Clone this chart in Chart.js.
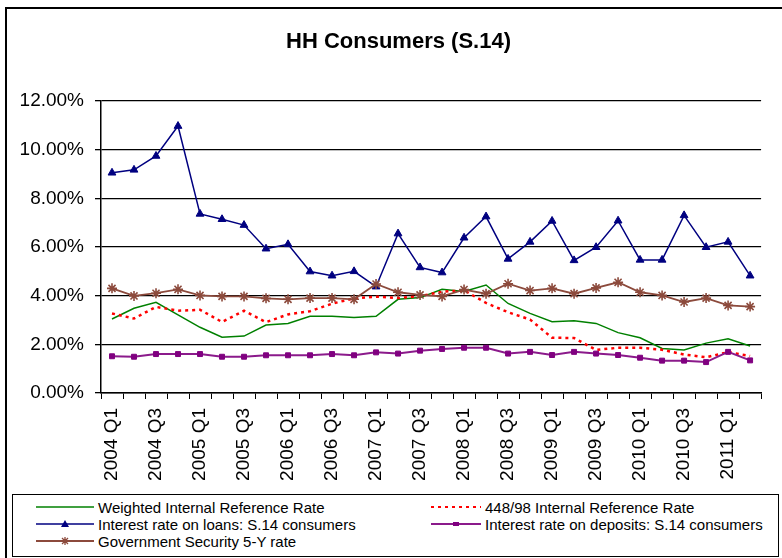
<!DOCTYPE html>
<html>
<head>
<meta charset="utf-8">
<title>HH Consumers (S.14)</title>
<script src="https://cdn.jsdelivr.net/npm/chart.js@4.4.1/dist/chart.umd.min.js"></script>
<style>
	body{margin:0;background:#fff;font-family:"Liberation Sans", Arial, sans-serif;}
	#wrap{position:relative;width:782px;height:558px;overflow:hidden;background:#fff;}
	#frame{position:absolute;left:5px;top:7px;width:820px;height:620px;border-left:2px solid #000;border-top:2px solid #000;}
	#graph_hh{position:absolute;left:0;top:0;}
	#legend{position:absolute;left:12px;top:494px;width:765px;height:61px;border:1px solid #000;background:#fff;}
	.lg_item{position:absolute;height:17px;line-height:17px;font-size:15px;color:#000;white-space:nowrap;}
	.lg_item svg{position:absolute;left:0;top:3px;}
	.lg_item span{position:absolute;top:0;}
</style>
</head>
<body>
<div id="wrap">
	<div id="frame"></div>
	<canvas id="graph_hh" width="782" height="493"></canvas>
	<div id="legend"></div>
</div>
<script>
var quarters = ["2004 Q1", "2004 Q2", "2004 Q3", "2004 Q4", "2005 Q1", "2005 Q2", "2005 Q3", "2005 Q4",
	"2006 Q1", "2006 Q2", "2006 Q3", "2006 Q4", "2007 Q1", "2007 Q2", "2007 Q3", "2007 Q4",
	"2008 Q1", "2008 Q2", "2008 Q3", "2008 Q4", "2009 Q1", "2009 Q2", "2009 Q3", "2009 Q4",
	"2010 Q1", "2010 Q2", "2010 Q3", "2010 Q4", "2011 Q1", "2011 Q2"];

var weighted_rate = [3.04, 3.48, 3.73, 3.21, 2.70, 2.29, 2.34, 2.79, 2.86, 3.15, 3.15, 3.10, 3.15, 3.85, 3.92,
	4.26, 4.17, 4.44, 3.68, 3.27, 2.93, 2.97, 2.86, 2.48, 2.27, 1.83, 1.77, 2.05, 2.23, 1.93];
var rate_448_98 = [3.27, 3.06, 3.54, 3.38, 3.42, 2.92, 3.38, 2.91, 3.23, 3.36, 3.67, 3.89, 3.96, 3.90, 3.98,
	4.16, 4.22, 3.70, 3.32, 3.02, 2.27, 2.26, 1.77, 1.86, 1.86, 1.78, 1.58, 1.47, 1.68, 1.52];
var loans_rate = [9.05, 9.17, 9.74, 10.97, 7.36, 7.14, 6.90, 5.93, 6.11, 4.99, 4.82, 5.00, 4.37, 6.55, 5.16,
	4.95, 6.38, 7.25, 5.51, 6.21, 7.07, 5.45, 5.99, 7.08, 5.47, 5.47, 7.30, 5.99, 6.21, 4.82];
var deposits_rate = [1.51, 1.49, 1.60, 1.60, 1.60, 1.49, 1.49, 1.55, 1.55, 1.55, 1.60, 1.55, 1.67, 1.62, 1.74,
	1.81, 1.86, 1.86, 1.62, 1.69, 1.56, 1.69, 1.62, 1.56, 1.45, 1.33, 1.33, 1.27, 1.69, 1.34];
var gov_5y_rate = [4.30, 3.99, 4.10, 4.26, 4.01, 3.97, 3.97, 3.89, 3.85, 3.90, 3.90, 3.85, 4.48, 4.14, 4.03,
	3.97, 4.25, 4.08, 4.49, 4.21, 4.30, 4.08, 4.32, 4.55, 4.14, 4.01, 3.74, 3.90, 3.60, 3.55];

var y_ticks = [0, 2, 4, 6, 8, 10, 12];

var tick_font = {family: '"Liberation Sans", Arial, sans-serif', size: 19};

var graph_hh_config = {
	type: 'line',
	data: {
		labels: quarters,
		datasets: [{
			label: 'Weighted Internal Reference Rate',
			data: weighted_rate,
			borderColor: '#008000',
			backgroundColor: '#008000',
			borderWidth: 1.5,
			pointRadius: 0,
			order: 5,
			legendCol: 0, legendRow: 0
		},{
			label: '448/98 Internal Reference Rate',
			data: rate_448_98,
			borderColor: '#ff0000',
			backgroundColor: '#ff0000',
			borderWidth: 2.5,
			borderDash: [3, 4],
			pointRadius: 0,
			order: 4,
			legendCol: 1, legendRow: 0
		},{
			label: 'Interest rate on loans: S.14 consumers',
			data: loans_rate,
			borderColor: '#000080',
			backgroundColor: '#000080',
			borderWidth: 1.5,
			pointStyle: 'triangle',
			pointRadius: 4.5,
			pointBorderWidth: 1,
			order: 3,
			legendCol: 0, legendRow: 1
		},{
			label: 'Interest rate on deposits: S.14 consumers',
			data: deposits_rate,
			borderColor: '#8b1a8b',
			backgroundColor: '#800080',
			pointBorderColor: '#800080',
			borderWidth: 2,
			pointStyle: 'rect',
			pointRadius: 3.5,
			pointBorderWidth: 1,
			order: 2,
			legendCol: 1, legendRow: 1
		},{
			label: 'Government Security 5-Y rate',
			data: gov_5y_rate,
			borderColor: '#8c4a3c',
			backgroundColor: '#8c4a3c',
			borderWidth: 1.8,
			pointStyle: 'star',
			pointRadius: 5,
			pointBorderWidth: 1.6,
			order: 1,
			legendCol: 0, legendRow: 2
		}]
	},
	options: {
		responsive: false,
		animation: false,
		layout: {
			padding: {left: 18, right: 3, top: 0, bottom: 0}
		},
		elements: {
			line: {tension: 0, fill: false}
		},
		scales: {
			x: {
				offset: true,
				afterFit: function(scale){
					scale.height = 100;
				},
				ticks: {
					autoSkip: false,
					minRotation: 90,
					maxRotation: 90,
					padding: 9,
					color: '#000',
					font: tick_font,
					callback: function(value, index){
						//only every second quarter gets a label
						return index % 2 == 0 ? this.getLabelForValue(value) : '';
					}
				},
				grid: {
					offset: true,
					drawOnChartArea: false,
					drawTicks: true,
					tickLength: 6,
					tickColor: '#000',
					color: '#000'
				},
				border: {color: '#000', width: 1.5}
			},
			y: {
				min: 0,
				max: 12,
				afterFit: function(scale){
					scale.width = 83;
				},
				afterBuildTicks: function(scale){
					scale.ticks = y_ticks.map(function(v){ return {value: v}; });
				},
				ticks: {
					padding: 11,
					color: '#000',
					font: tick_font,
					callback: function(value){
						return value.toFixed(2) + '%';
					}
				},
				grid: {
					color: '#000',
					lineWidth: 1.3,
					drawTicks: true,
					tickLength: 6,
					tickColor: '#000'
				},
				border: {color: '#000', width: 1.5}
			}
		},
		plugins: {
			legend: {display: false},
			tooltip: {enabled: false},
			title: {
				display: true,
				text: 'HH Consumers (S.14)',
				color: '#000',
				font: {family: '"Liberation Sans", Arial, sans-serif', size: 22, weight: 'bold', lineHeight: 1.2},
				padding: {top: 28.8, bottom: 45.8}
			}
		}
	}
};

function legend_sample(ds, w){
	var mid = 5;
	var dash = ds.borderDash ? ' stroke-dasharray="' + ds.borderDash.join(' ') + '"' : '';
	var svg = '<svg width="' + w + '" height="11" xmlns="http://www.w3.org/2000/svg">';
	svg += '<line x1="0" y1="' + mid + '" x2="' + w + '" y2="' + mid + '" stroke="' + ds.borderColor + '" stroke-width="' + Math.min(ds.borderWidth, 2) + '"' + dash + '/>';
	var cx = w / 2;
	if(ds.pointStyle == 'triangle'){
		svg += '<polygon points="' + (cx - 4) + ',' + (mid + 3) + ' ' + (cx + 4) + ',' + (mid + 3) + ' ' + cx + ',' + (mid - 4) + '" fill="' + ds.backgroundColor + '"/>';
	} else if(ds.pointStyle == 'rect'){
		svg += '<rect x="' + (cx - 3) + '" y="' + (mid - 2) + '" width="6" height="4" fill="' + ds.backgroundColor + '"/>';
	} else if(ds.pointStyle == 'star'){
		var c = ds.borderColor;
		svg += '<path d="M' + (cx - 4) + ' ' + mid + 'H' + (cx + 4) + 'M' + cx + ' ' + (mid - 4) + 'V' + (mid + 4) +
			'M' + (cx - 3) + ' ' + (mid - 3) + 'L' + (cx + 3) + ' ' + (mid + 3) + 'M' + (cx - 3) + ' ' + (mid + 3) + 'L' + (cx + 3) + ' ' + (mid - 3) +
			'" stroke="' + c + '" stroke-width="1.3"/>';
	}
	return svg + '</svg>';
}

function build_legend(config){
	var box = document.getElementById('legend');
	var col_x = [23, 418];
	var col_w = [58, 50];
	var row_y = [4, 21, 38];
	config.data.datasets.forEach(function(ds){
		var item = document.createElement('div');
		item.className = 'lg_item';
		item.style.left = col_x[ds.legendCol] + 'px';
		item.style.top = row_y[ds.legendRow] + 'px';
		var w = col_w[ds.legendCol];
		item.innerHTML = legend_sample(ds, w) + '<span style="left:' + (w + 4) + 'px">' + ds.label + '</span>';
		box.appendChild(item);
	});
}

var graph_chart_hh;

document.addEventListener("DOMContentLoaded", function(){
	graph_chart_hh = new Chart(document.getElementById("graph_hh").getContext('2d'), graph_hh_config);
	build_legend(graph_hh_config);
});
</script>
</body>
</html>
